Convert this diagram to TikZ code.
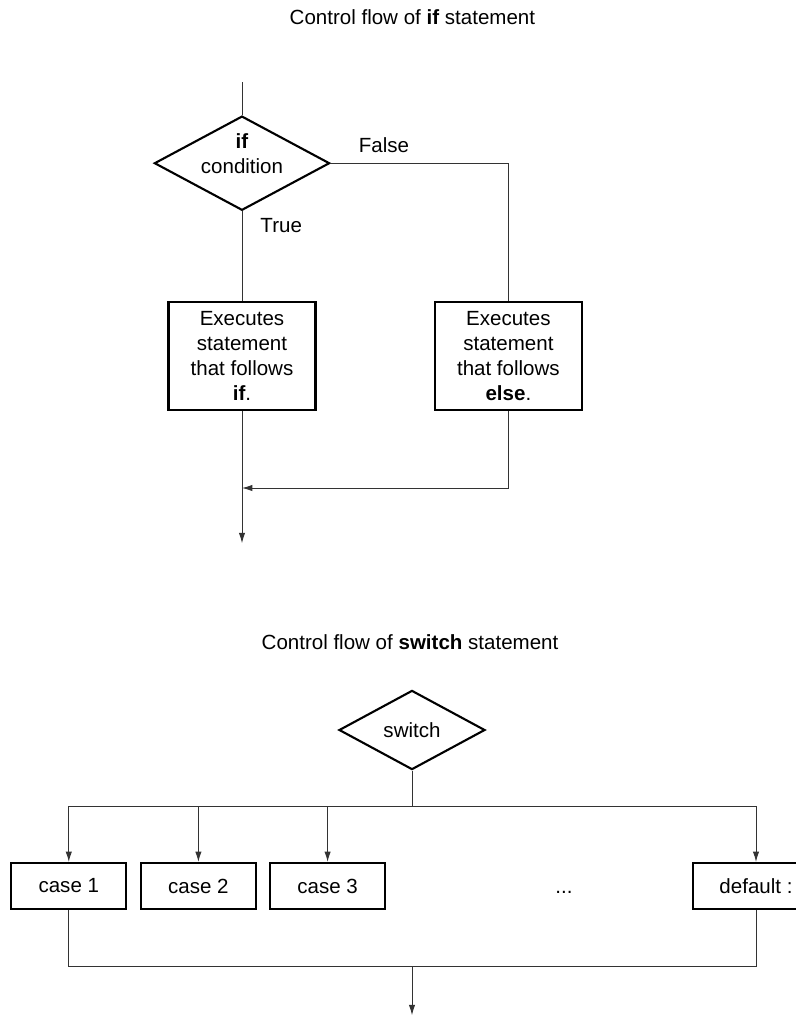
\documentclass[tikz,border=0pt]{standalone}
\usepackage{fontspec}
\setmainfont{Liberation Sans}
\usepackage{tikz}
\usetikzlibrary{positioning}
\usetikzlibrary{arrows.meta, shapes.geometric, calc}

\begin{document}
\begin{tikzpicture}[
        font=\fontsize{14.6pt}{17.8pt}\selectfont,
        decision/.style={diamond, draw, line width=1.5pt, inner sep=0pt, align=center},
        block/.style={rectangle, draw, line width=1.5pt, inner sep=0pt, align=center},
        flow/.style={draw, line width=0.7pt, black!80},
        arr/.style={flow, -{Latex[length=2.6mm,width=1.6mm]}}
    ]
            \useasboundingbox (0,0) rectangle (19.9,-25.45);
            % if statement
            \begin{scope}[shift={(0,0)}]
                \node (iftitle) at (10.31,-0.44) {Control flow of \textbf{if} statement};
                \coordinate (ifin) at (6.05,-2.05);
                \node[decision, aspect=1.86, minimum width=4.33cm, minimum height=2.33cm] (cond) at (6.05,-4.08)
                    {\raisebox{0.17cm}[\height][\depth]{\begin{tabular}{@{}c@{}}\textbf{if}\\condition\end{tabular}}};
                \node[block, minimum width=3.675cm, minimum height=2.7cm] (ifbox) at (6.05,-8.9) {Executes\\statement\\that follows\\\textbf{if}.};
                \node[block, minimum width=3.675cm, minimum height=2.7cm] (elsebox) at (12.71,-8.9) {Executes\\statement\\that follows\\\textbf{else}.};
                \node (falselbl) at (9.6,-3.63) {False};
                \node (truelbl) at (7.03,-5.63) {True};
                \coordinate (ifjoin) at (6.05,-12.2);
                \coordinate (ifout) at (6.05,-13.58);
                \draw[flow] (ifin) -- (cond.north);
                \draw[flow] (cond.east) -| (elsebox.north);
                \draw[flow] (cond.south) -- (ifbox.north);
                \draw[arr] (ifbox.south) -- (ifout);
                \draw[arr] (elsebox.south) |- (ifjoin);
            \end{scope}
            % switch statement
            \begin{scope}[shift={(0,-16.05)}]
                \node (swtitle) at (10.25,0) {Control flow of \textbf{switch} statement};
                \node[decision, aspect=1.84, minimum width=3.65cm, minimum height=1.98cm] (sw) at (10.3,-2.2) {switch};
                \node[block, minimum width=2.875cm, minimum height=1.15cm] (case1) at (1.72,-6.1) {case 1};
                \node[block, minimum width=2.875cm, minimum height=1.15cm] (case2) at (4.96,-6.1) {case 2};
                \node[block, minimum width=2.875cm, minimum height=1.15cm] (case3) at (8.19,-6.1) {case 3};
                \node (dots) at (14.1,-6.25) {...};
                \node[block, minimum width=3.15cm, minimum height=1.15cm] (default) at (18.9,-6.1) {default :};
                \coordinate (swsplit) at (10.3,-4.1);
                \coordinate (swjoin) at (10.3,-8.1);
                \coordinate (swout) at (10.3,-9.33);
                \draw[flow] (sw.south) -- (swsplit);
                \draw[arr] (swsplit) -| (case1.north);
                \draw[arr] (swsplit) -| (case2.north);
                \draw[arr] (swsplit) -| (case3.north);
                \draw[arr] (swsplit) -| (default.north);
                \draw[flow] (case1.south) |- (swjoin);
                \draw[flow] (default.south) |- (swjoin);
                \draw[arr] (swjoin) -- (swout);
            \end{scope}
        \end{tikzpicture}
\end{document}
